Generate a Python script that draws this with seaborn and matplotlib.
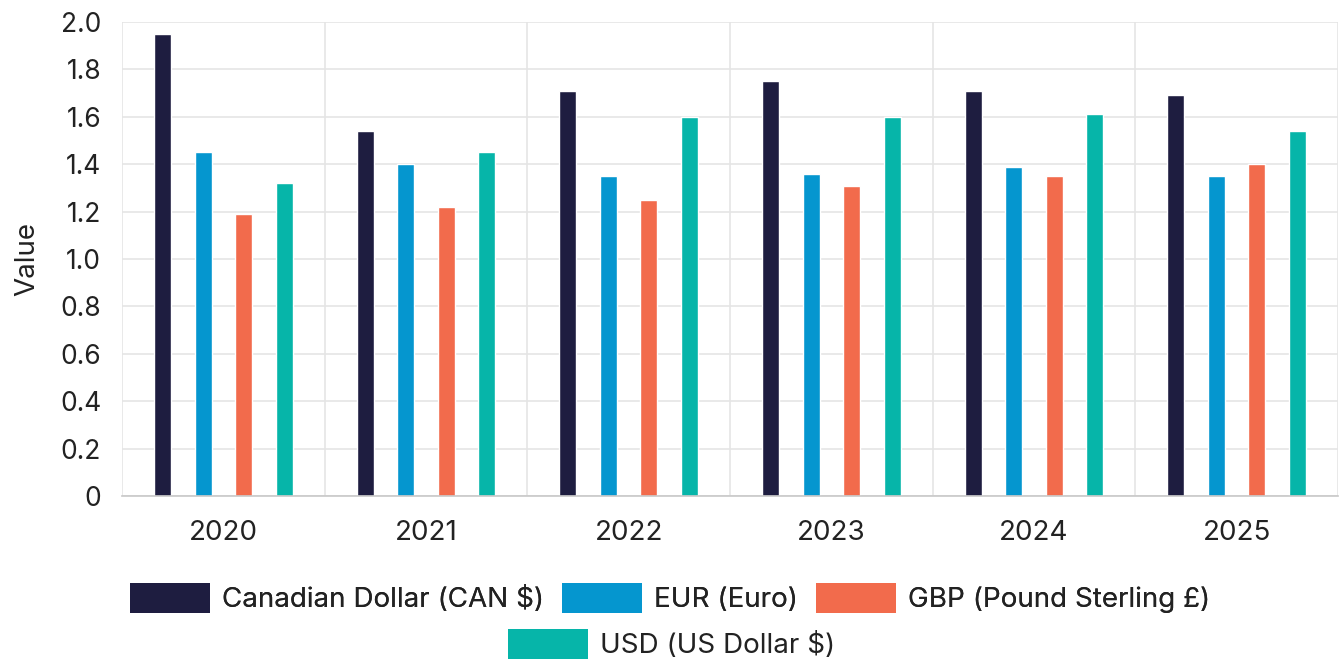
import matplotlib
matplotlib.use("Agg")
import matplotlib.pyplot as plt
import seaborn as sns
import pandas as pd
from matplotlib.patches import Patch
from matplotlib.ticker import FixedLocator, MultipleLocator, FuncFormatter

years = ["2020", "2021", "2022", "2023", "2024", "2025"]
series_names = ["Canadian Dollar (CAN $)", "EUR (Euro)", "GBP (Pound Sterling £)", "USD (US Dollar $)"]
cad = [1.95, 1.54, 1.71, 1.75, 1.71, 1.69]
eur = [1.45, 1.40, 1.35, 1.36, 1.39, 1.35]
gbp = [1.19, 1.22, 1.25, 1.31, 1.35, 1.40]
usd = [1.32, 1.45, 1.60, 1.60, 1.61, 1.54]
colors = ["#1e1d40", "#0596cf", "#f26b4c", "#06b5a9"]

rows = []
for name, vals in zip(series_names, [cad, eur, gbp, usd]):
    for y, v in zip(years, vals):
        rows.append({"Year": y, "Currency": name, "Value": v})
df = pd.DataFrame(rows)

sns.set_style("white")
plt.rcParams["font.family"] = ["Inter", "DejaVu Sans"]
plt.rcParams["text.color"] = "#222222"

fig = plt.figure(figsize=(13.44, 6.61), dpi=100)
ax = fig.add_axes([0.0908, 0.2496, 0.9047, 0.7171])

sns.barplot(data=df, x="Year", y="Value", hue="Currency", order=years,
            hue_order=series_names, palette=colors, width=0.8, gap=0.58,
            saturation=1, ax=ax, legend=False)

ax.set_xlim(-0.5, 5.5)
ax.set_ylim(0, 2.0)
ax.yaxis.set_major_locator(MultipleLocator(0.2))
ax.yaxis.set_major_formatter(FuncFormatter(lambda v, p: "0" if abs(v) < 1e-9 else f"{v:.1f}"))
ax.xaxis.set_minor_locator(FixedLocator([i - 0.5 for i in range(len(years) + 1)]))

grid_c = "#e5e5e5"
ax.grid(axis="y", which="major", color=grid_c, linewidth=1.2)
ax.grid(axis="x", which="minor", color=grid_c, linewidth=1.2)
ax.set_axisbelow(True)
for s in ["top", "right", "left"]:
    ax.spines[s].set_visible(False)
ax.spines["bottom"].set_color("#c8c8c8")
ax.spines["bottom"].set_linewidth(1.2)

ax.tick_params(axis="x", which="major", length=0, pad=17, labelsize=20, labelcolor="#222222")
ax.tick_params(axis="x", which="minor", length=13, width=1.2, color=grid_c)
ax.tick_params(axis="y", length=14, width=1.2, color=grid_c, pad=1, labelsize=19, labelcolor="#222222")

ax.set_xlabel("")
ax.set_ylabel("Value", fontsize=20, color="#222222", labelpad=14)

handles = [Patch(facecolor=c, edgecolor="none") for c in colors]
common = dict(frameon=False, fontsize=20, handlelength=2.88, handleheight=1.3,
              handletextpad=0.43, borderpad=0, borderaxespad=0)
leg1 = fig.legend(handles[:3], series_names[:3], loc="center", bbox_to_anchor=(0.4985, 0.0955),
                  ncol=3, columnspacing=0.65, **common)
fig.add_artist(leg1)
leg2 = fig.legend(handles[3:], series_names[3:], loc="center", bbox_to_anchor=(0.5, 0.0255),
                  ncol=1, **common)

fig.savefig("out.png", dpi=100)
